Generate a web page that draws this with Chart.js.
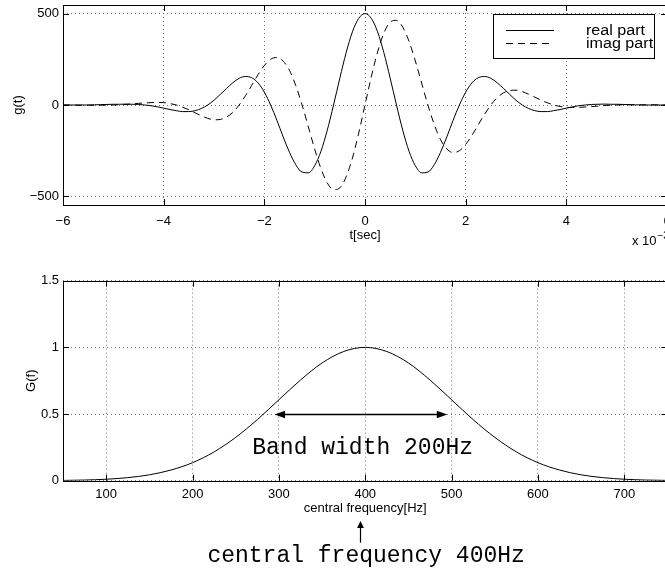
<!DOCTYPE html>
<html>
<head>
<meta charset="utf-8">
<script src="https://cdn.jsdelivr.net/npm/chart.js@4.4.1/dist/chart.umd.min.js"></script>
<style>
  html, body { margin: 0; padding: 0; background: #fff; overflow: hidden; width: 665px; height: 571px; }
  canvas { position: absolute; left: 0; }
  #gabor { top: 0; }
  #spectrum { top: 250px; }
</style>
</head>
<body>
<canvas id="gabor" width="700" height="250"></canvas>
<canvas id="spectrum" width="700" height="321"></canvas>
<script>
// top plot: gabor function, time in units of 10^-3 sec
const tMs = [
  -6, -5.875, -5.75, -5.625, -5.5, -5.375, -5.25, -5.125,
  -5, -4.875, -4.75, -4.625, -4.5, -4.375, -4.25, -4.125,
  -4, -3.875, -3.75, -3.625, -3.5, -3.375, -3.25, -3.125,
  -3, -2.875, -2.75, -2.625, -2.5, -2.375, -2.25, -2.125,
  -2, -1.875, -1.75, -1.625, -1.5, -1.375, -1.25, -1.125,
  -1, -0.875, -0.75, -0.625, -0.5, -0.375, -0.25, -0.125,
  0,
  0.125, 0.25, 0.375, 0.5, 0.625, 0.75, 0.875, 1,
  1.125, 1.25, 1.375, 1.5, 1.625, 1.75, 1.875, 2,
  2.125, 2.25, 2.375, 2.5, 2.625, 2.75, 2.875, 3,
  3.125, 3.25, 3.375, 3.5, 3.625, 3.75, 3.875, 4,
  4.125, 4.25, 4.375, 4.5, 4.625, 4.75, 4.875, 5,
  5.125, 5.25, 5.375, 5.5, 5.625, 5.75, 5.875, 6
];
const realPart = [
  0, 0, 0, 0, 0, 1, 2, 3,
  4, 4, 5, 4, 3, 0, -4, -10,
  -17, -25, -31, -36, -36, -31, -19, 0,
  26, 58, 91, 122, 146, 156, 149, 121,
  70, 0, -84, -175, -259, -327, -367, -371,
  -332, -253, -138, 0, 147, 286, 400, 474,
  500,
  474, 400, 286, 147, 0, -138, -253, -332,
  -371, -367, -327, -259, -175, -84, 0, 70,
  121, 149, 156, 146, 122, 91, 58, 26,
  0, -19, -31, -36, -36, -31, -25, -17,
  -10, -4, 0, 3, 4, 5, 4, 4,
  3, 2, 1, 0, 0, 0, 0, 0
];
const imagPart = [
  0, 0, -1, -1, -1, -1, -1, -1,
  0, 1, 3, 6, 9, 11, 13, 14,
  13, 8, 0, -12, -26, -43, -59, -73,
  -81, -79, -66, -40, 0, 51, 108, 166,
  216, 250, 260, 240, 189, 106, 0, -120,
  -241, -348, -426, -463, -453, -393, -290, -154,
  0,
  154, 290, 393, 453, 463, 426, 348, 241,
  120, 0, -106, -189, -240, -260, -250, -216,
  -166, -108, -51, 0, 40, 66, 79, 81,
  73, 59, 43, 26, 12, 0, -8, -13,
  -14, -13, -11, -9, -6, -3, -1, 0,
  1, 1, 1, 1, 1, 1, 0, 0
];
const tTicks = [-6, -4, -2, 0, 2, 4, 6];
const gTicks = [-500, 0, 500];

// bottom plot: spectrum
const freqHz = [50, 75, 100, 125, 150, 175, 200, 225, 250, 275, 300, 325, 350, 375, 400,
  425, 450, 475, 500, 525, 550, 575, 600, 625, 650, 675, 700, 725, 750];
const gainG = [0.002, 0.005, 0.011, 0.023, 0.044, 0.080, 0.135, 0.216, 0.325, 0.458, 0.607, 0.755, 0.883, 0.969, 1.000,
  0.969, 0.883, 0.755, 0.607, 0.458, 0.325, 0.216, 0.135, 0.080, 0.044, 0.023, 0.011, 0.005, 0.002];
const fTicks = [100, 200, 300, 400, 500, 600, 700];
const GTicks = [0, 0.5, 1, 1.5];

// annotation anchors (data units)
const bandFrom = 295, bandTo = 495, bandLevel = 0.5;
const bandText = 'Band width 200Hz', bandTextF = 397, bandTextLevel = 0.198;
const centerText = 'central frequency 400Hz', centerF = 401, centerArrowF = 394;

Chart.defaults.font.family = '"Liberation Sans", Arial, Helvetica, sans-serif';
Chart.defaults.font.size = 13;
Chart.defaults.color = '#000';

const fmt = v => String(v).replace('-', '\u2212');

// matlab style box with inward ticks on all four sides
const matlabBox = {
    id: 'matlabBox',
    afterDatasetsDraw(chart) {
        const { ctx, chartArea: a, scales: { x, y } } = chart;
        const L = 6;
        ctx.save();
        ctx.strokeStyle = '#000';
        ctx.lineWidth = 1;
        ctx.setLineDash([]);
        ctx.beginPath();
        x.ticks.forEach(t => {
            const px = Math.round(x.getPixelForValue(t.value)) + 0.5;
            ctx.moveTo(px, a.bottom); ctx.lineTo(px, a.bottom - L);
            ctx.moveTo(px, a.top); ctx.lineTo(px, a.top + L);
        });
        y.ticks.forEach(t => {
            const py = Math.round(y.getPixelForValue(t.value)) + 0.5;
            ctx.moveTo(a.left, py); ctx.lineTo(a.left + L, py);
            ctx.moveTo(a.right, py); ctx.lineTo(a.right - L, py);
        });
        ctx.stroke();
        const l = Math.round(a.left) + 0.5, tp = Math.round(a.top) + 0.5;
        ctx.strokeRect(l, tp, Math.round(a.right) - Math.round(a.left), Math.round(a.bottom) - Math.round(a.top));
        ctx.restore();
    }
};

const gaborLegend = {
    id: 'gaborLegend',
    afterDraw(chart) {
        const ctx = chart.ctx;
        ctx.save();
        ctx.fillStyle = '#fff';
        ctx.fillRect(493.5, 14.5, 161, 44);
        ctx.strokeStyle = '#000';
        ctx.lineWidth = 1;
        ctx.strokeRect(493.5, 14.5, 161, 44);
        const rows = [30.5, 43.5];
        chart.data.datasets.forEach((ds, i) => {
            ctx.setLineDash(ds.borderDash || []);
            ctx.beginPath();
            ctx.moveTo(506, rows[i]);
            ctx.lineTo(554, rows[i]);
            ctx.stroke();
            ctx.setLineDash([]);
            ctx.save();
            ctx.translate(586, rows[i] + 4);
            ctx.scale(1.15, 1);
            ctx.fillStyle = '#000';
            ctx.font = '14px "Liberation Sans", Arial, sans-serif';
            ctx.textBaseline = 'alphabetic';
            ctx.fillText(ds.label, 0, 0);
            ctx.restore();
        });
        // exponent of the time axis
        ctx.fillStyle = '#000';
        ctx.textBaseline = 'alphabetic';
        ctx.font = '13px "Liberation Sans", Arial, sans-serif';
        ctx.fillText('x 10', 632, 245);
        ctx.font = '10px "Liberation Sans", Arial, sans-serif';
        ctx.fillText('\u22123', 657.5, 239);
        ctx.restore();
    }
};

const arrowHead = (ctx, x, y, dx, dy, len, half) => {
    // tip at x,y pointing in direction dx,dy
    ctx.beginPath();
    ctx.moveTo(x, y);
    ctx.lineTo(x - dx * len - dy * half, y - dy * len + dx * half);
    ctx.lineTo(x - dx * len + dy * half, y - dy * len - dx * half);
    ctx.closePath();
    ctx.fill();
};

const bandNotes = {
    id: 'bandNotes',
    afterDraw(chart) {
        const { ctx, chartArea: a, scales: { x, y } } = chart;
        ctx.save();
        ctx.strokeStyle = '#000';
        ctx.fillStyle = '#000';
        ctx.lineWidth = 1.3;
        const yb = Math.round(y.getPixelForValue(bandLevel)) + 0.5;
        const x1 = x.getPixelForValue(bandFrom), x2 = x.getPixelForValue(bandTo);
        ctx.beginPath();
        ctx.moveTo(x1 + 6, yb); ctx.lineTo(x2 - 6, yb);
        ctx.stroke();
        arrowHead(ctx, x1, yb, -1, 0, 10.5, 3.8);
        arrowHead(ctx, x2, yb, 1, 0, 10.5, 3.8);

        ctx.font = '23px "Liberation Mono", "Courier New", monospace';
        ctx.textAlign = 'center';
        ctx.textBaseline = 'alphabetic';
        ctx.fillText(bandText, x.getPixelForValue(bandTextF), y.getPixelForValue(bandTextLevel));

        const xa = Math.round(x.getPixelForValue(centerArrowF)) + 0.5;
        ctx.lineWidth = 1.2;
        ctx.beginPath();
        ctx.moveTo(xa, a.bottom + 62); ctx.lineTo(xa, a.bottom + 45);
        ctx.stroke();
        arrowHead(ctx, xa, a.bottom + 40.3, 0, -1, 7, 3.4);

        ctx.fillText(centerText, x.getPixelForValue(centerF), a.bottom + 81);
        ctx.restore();
    }
};

const makeOptions = (cfg) => ({
    responsive: false,
    animation: false,
    devicePixelRatio: 1,
    layout: { padding: cfg.padding },
    plugins: { legend: { display: false }, tooltip: { enabled: false } },
    elements: { point: { radius: 0 }, line: { borderWidth: 1, borderColor: '#000' } },
    scales: {
        x: {
            type: 'linear',
            min: cfg.xMin, max: cfg.xMax,
            afterBuildTicks: s => { s.ticks = cfg.xTicks.map(v => ({ value: v })); },
            afterFit: s => { s.height = 45; s.paddingLeft = 0; s.paddingRight = 0; },
            grid: { color: '#777', lineWidth: 1, drawTicks: false },
            border: { display: false, dash: [1, 3] },
            ticks: { padding: cfg.xTickPad, maxRotation: 0, autoSkip: false, callback: v => fmt(v) },
            title: { display: true, text: cfg.xTitle, font: { size: 13 }, padding: { top: 0, bottom: cfg.xTitlePad } }
        },
        y: {
            type: 'linear',
            min: cfg.yMin, max: cfg.yMax,
            afterBuildTicks: s => { s.ticks = cfg.yTicks.map(v => ({ value: v })); },
            afterFit: s => { s.width = 63; s.paddingTop = 0; s.paddingBottom = 0; },
            grid: { color: '#777', lineWidth: 1, drawTicks: false },
            border: { display: false, dash: [1, 3] },
            ticks: { padding: 4, autoSkip: false, callback: v => fmt(v) },
            title: { display: true, text: cfg.yTitle, font: { size: 13 }, padding: { top: cfg.yTitlePad, bottom: 0 } }
        }
    }
});

new Chart(document.getElementById('gabor'), {
    type: 'line',
    data: {
        datasets: [
            { label: 'real part', data: tMs.map((t, i) => ({ x: t, y: realPart[i] })),
              borderColor: '#000', borderWidth: 1, cubicInterpolationMode: 'monotone', fill: false },
            { label: 'imag part', data: tMs.map((t, i) => ({ x: t, y: imagPart[i] })),
              borderColor: '#000', borderWidth: 1, borderDash: [7, 5], cubicInterpolationMode: 'monotone', fill: false }
        ]
    },
    options: makeOptions({
        padding: { left: 0, top: 5, right: 33, bottom: 0 },
        xMin: -6, xMax: 6, xTicks: tTicks, xTickPad: 9, xTitle: 't[sec]', xTitlePad: 7,
        yMin: -547, yMax: 547, yTicks: gTicks, yTitle: 'g(t)', yTitlePad: 11
    }),
    plugins: [matlabBox, gaborLegend]
});

new Chart(document.getElementById('spectrum'), {
    type: 'line',
    data: {
        datasets: [
            { label: 'G(f)', data: freqHz.map((f, i) => ({ x: f, y: gainG[i] })),
              borderColor: '#000', borderWidth: 1, cubicInterpolationMode: 'monotone', fill: false }
        ]
    },
    options: makeOptions({
        padding: { left: 0, top: 30.7, right: 32.5, bottom: 45.3 },
        xMin: 50, xMax: 750, xTicks: fTicks, xTickPad: 5.5, xTitle: 'central frequency[Hz]', xTitlePad: 9,
        yMin: 0, yMax: 1.5, yTicks: GTicks, yTitle: 'G(f)', yTitlePad: 24
    }),
    plugins: [matlabBox, bandNotes]
});
</script>
</body>
</html>
